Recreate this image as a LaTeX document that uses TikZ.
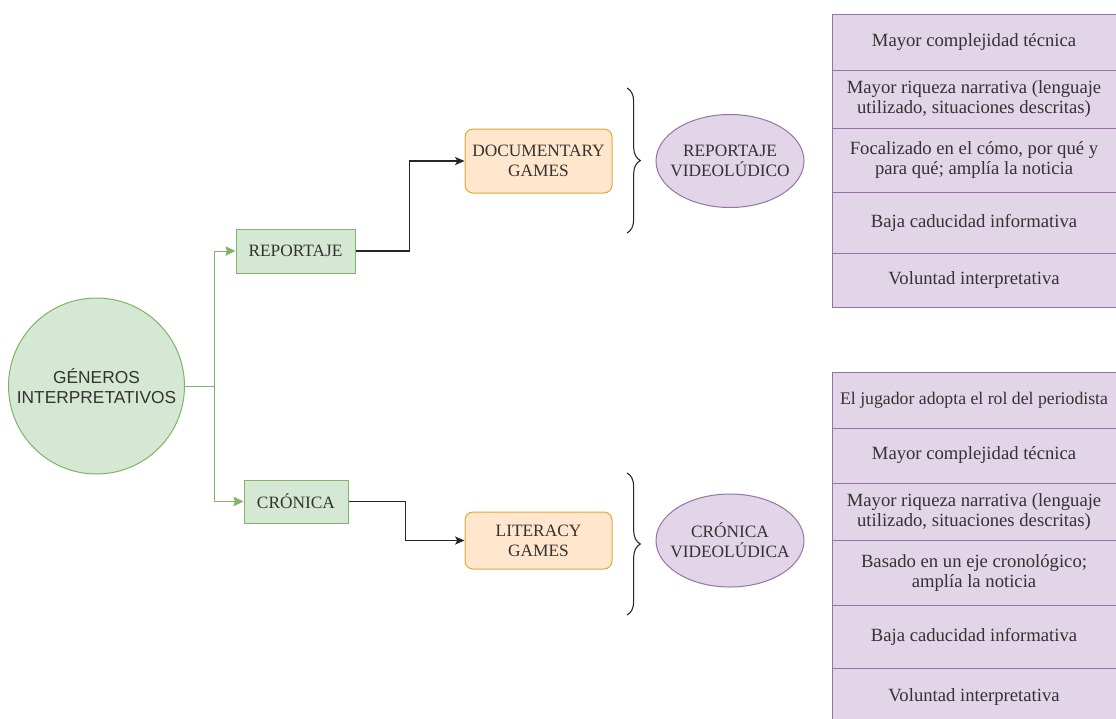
\documentclass[tikz,border=0pt]{standalone}
\usepackage{fontspec}
\setmainfont{Liberation Serif}
\newfontfamily\arialfont{Liberation Sans}
\usetikzlibrary{arrows.meta,positioning,decorations.pathreplacing,shapes.geometric}
\definecolor{grfill}{HTML}{D5E8D4}
\definecolor{grline}{HTML}{82B366}
\definecolor{orfill}{HTML}{FFE6CC}
\definecolor{orline}{HTML}{DDAA33}
\definecolor{pufill}{HTML}{E1D5E7}
\definecolor{puline}{HTML}{9673A6}
\definecolor{txt}{HTML}{333333}
\newlength{\pxu}\setlength{\pxu}{0.75pt}
\begin{document}
\begin{tikzpicture}[x=\pxu,y=-\pxu,>={Stealth[length=7pt,width=6pt,inset=1.5pt]},
 font=\fontsize{13}{15}\selectfont,text=txt,
 gbox/.style={draw=grline,fill=grfill,line width=0.75pt,align=center,inner sep=0pt},
 obox/.style={draw=orline,fill=orfill,line width=0.75pt,rounded corners=6pt,align=center,
   minimum width=147\pxu,inner sep=0pt},
 oval/.style={ellipse,draw=puline,fill=pufill,line width=0.75pt,align=center,
   minimum width=148\pxu,minimum height=93\pxu,inner xsep=-6pt,inner ysep=0pt},
 row/.style={draw=puline,fill=pufill,line width=0.75pt,anchor=north west,align=center,outer sep=0pt,
   minimum width=284\pxu,minimum height=#1\pxu,inner sep=0pt,font=\fontsize{14}{15}\selectfont},
 garrow/.style={->,draw=grline,line width=0.75pt,>={Stealth[length=7.5pt,width=7pt,inset=1pt]}},
 karrow/.style={->,draw=black!85,line width=1pt},
 brace/.style={decorate,decoration={brace,amplitude=10pt},draw=black!85,line width=0.8pt}]
\useasboundingbox (0,0) rectangle (1116,718);
% left part
\node[gbox,circle,minimum size=176\pxu,font=\arialfont\fontsize{13}{15}\selectfont] (gen) at (96.5,386) {GÉNEROS\\INTERPRETATIVOS};
\node[gbox,minimum width=119\pxu,minimum height=44\pxu] (rep) at (295.5,251) {REPORTAJE};
\node[gbox,minimum width=104\pxu,minimum height=43\pxu] (cro) at (296,501.5) {CRÓNICA};
\draw[garrow] (gen.east) -- ++(29,0) |- (rep.west);
\draw[garrow] (gen.east) -- ++(29,0) |- (cro.west);
% games
\node[obox,minimum height=64\pxu] (doc) at (538.5,161) {DOCUMENTARY\\GAMES};
\node[obox,minimum height=57\pxu] (lit) at (538.5,540.5) {LITERACY\\GAMES};
\draw[karrow] (rep.east) -- ++(54,0) |- (doc.west);
\draw[karrow] (cro.east) -- ++(57,0) |- (lit.west);
% braces and ovals
\coordinate (b1t) at (627,88); \coordinate (b1b) at (627,233);
\coordinate (b2t) at (627,473); \coordinate (b2b) at (627,615);
\draw[brace] (b1t) -- (b1b);
\draw[brace] (b2t) -- (b2b);
\node[oval] (rv) at (730,161) {REPORTAJE\\VIDEOLÚDICO};
\node[oval] (cv) at (730,540.5) {CRÓNICA\\VIDEOLÚDICA};
% table reportaje
\node[row=56] (a1) at (832,14) {Mayor complejidad técnica};
\node[row=58] (a2) at (a1.south west) {Mayor riqueza narrativa (lenguaje\\utilizado, situaciones descritas)};
\node[row=64] (a3) at (a2.south west) {Focalizado en el cómo, por qué y\\para qué; amplía la noticia};
\node[row=61] (a4) at (a3.south west) {Baja caducidad informativa};
\node[row=54] (a5) at (a4.south west) {Voluntad interpretativa};
% table cronica
\node[row=56,font=\fontsize{13.3}{15}\selectfont] (c1) at (832,372) {El jugador adopta el rol del periodista};
\node[row=55] (c2) at (c1.south west) {Mayor complejidad técnica};
\node[row=57] (c3) at (c2.south west) {Mayor riqueza narrativa (lenguaje\\utilizado, situaciones descritas)};
\node[row=65] (c4) at (c3.south west) {Basado en un eje cronológico;\\amplía la noticia};
\node[row=63] (c5) at (c4.south west) {Baja caducidad informativa};
\node[row=58] (c6) at (c5.south west) {Voluntad interpretativa};
\end{tikzpicture}
\end{document}
